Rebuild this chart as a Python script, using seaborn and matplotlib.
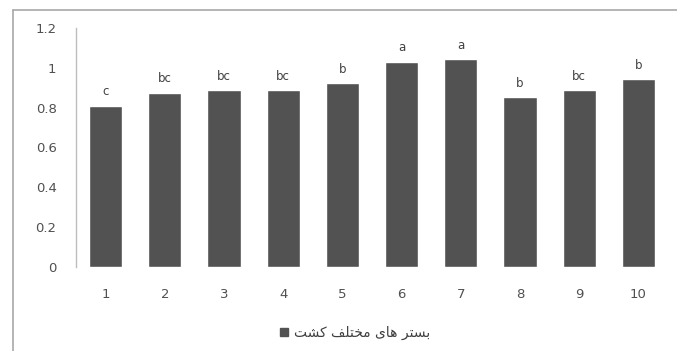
import matplotlib
matplotlib.use("Agg")
import matplotlib.pyplot as plt
from matplotlib.lines import Line2D
from matplotlib.patches import Patch
import seaborn as sns
import pandas as pd

# Treatments, mean values and significance letters
treatments = ["1", "2", "3", "4", "5", "6", "7", "8", "9", "10"]
values = [0.81, 0.875, 0.887, 0.887, 0.924, 1.031, 1.043, 0.852, 0.887, 0.944]
letters = ["c", "bc", "bc", "bc", "b", "a", "a", "b", "bc", "b"]
yticks = [0, 0.2, 0.4, 0.6, 0.8, 1.0, 1.2]
ytick_labels = ["0", "0.2", "0.4", "0.6", "0.8", "1", "1.2"]

# Legend text "بستر های مختلف کشت" written in shaped presentation forms,
# in visual (left-to-right) order, since matplotlib does no bidi shaping
legend_label = ("\uFE96\uFEB8\uFB90 "
                "\uFED2\uFEE0\uFE98\uFEA8\uFEE3 "
                "\uFBFC\uFE8E\uFEEB "
                "\uFEAE\uFE98\uFEB4\uFE91")

df = pd.DataFrame({"treatment": treatments, "value": values})

sns.set_style("white")
plt.rcParams["font.family"] = ["DejaVu Sans", "Noto Sans"]

fig = plt.figure(figsize=(6.77, 3.51), dpi=100)
ax = fig.add_axes([76 / 677, 1 - 267 / 351, (668 - 76) / 677, (267 - 28) / 351])

bar_color = "#525252"
sns.barplot(data=df, x="treatment", y="value", order=treatments,
            color=bar_color, width=0.56, saturation=1, ax=ax)

for i, (v, lab) in enumerate(zip(values, letters)):
    ax.annotate(lab, (i, v), xytext=(0, 10), textcoords="offset points",
                ha="center", va="center", fontsize=8.5, color="#404040")

ax.set_ylim(0, 1.2)
ax.set_xlim(-0.5, len(treatments) - 0.5)
ax.set_yticks(yticks)
ax.set_yticklabels(ytick_labels)
ax.tick_params(axis="y", length=0, pad=14, labelsize=9.5, labelcolor="#505050")
ax.tick_params(axis="x", length=0, pad=15, labelsize=9.5, labelcolor="#505050")
ax.set_xlabel("")
ax.set_ylabel("")

for side in ["top", "right", "bottom"]:
    ax.spines[side].set_visible(False)
ax.spines["left"].set_color("#bdbdbd")
ax.spines["left"].set_linewidth(1.0)

# Outer chart frame
frame_color = "#a8a8a8"
fig.add_artist(Line2D([13 / 677, 1.0], [1 - 10 / 351, 1 - 10 / 351],
                      color=frame_color, lw=1.2, transform=fig.transFigure))
fig.add_artist(Line2D([13 / 677, 13 / 677], [0.0, 1 - 10 / 351],
                      color=frame_color, lw=1.2, transform=fig.transFigure))

handle = Patch(facecolor=bar_color, edgecolor=bar_color)
fig.legend([handle], [legend_label], loc="center",
           bbox_to_anchor=(355 / 677, 1 - 333 / 351), frameon=False,
           fontsize=10, handlelength=0.6, handleheight=0.6,
           handletextpad=0.4, labelcolor="#404040")

fig.savefig("out.png", dpi=100)
